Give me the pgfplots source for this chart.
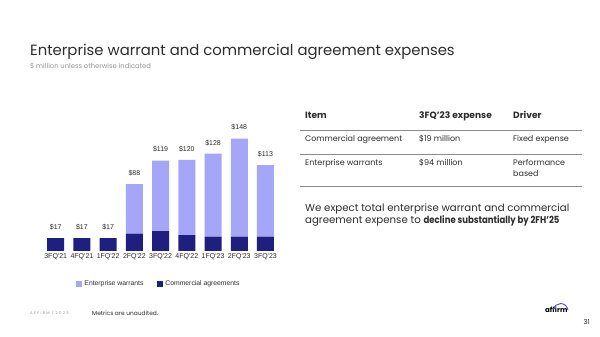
\documentclass[border=0pt]{standalone}
\usepackage{fontspec}
\setmainfont{Poppins}
\newfontfamily\arialf{Liberation Sans}
\usepackage{pgfplots}
\pgfplotsset{compat=1.18}
\definecolor{lightbar}{RGB}{166,166,248}
\definecolor{darkbar}{RGB}{31,31,128}
\definecolor{titlegray}{RGB}{45,45,45}
\definecolor{subgray}{RGB}{150,150,150}
\definecolor{linegray}{RGB}{140,140,140}
\definecolor{logoblue}{RGB}{74,74,244}
\pgfplotsset{chartgeom/.style={
  at={(42.6pt,86pt)}, anchor=south west,
  scale only axis, width=236pt, height=121.6pt,
  xmin=-0.5, xmax=8.5, ymin=0, ymax=160, clip=false}}
\begin{document}
\begin{tikzpicture}
\begin{scope}[x=1pt,y=-1pt,yshift=337pt]
\path[fill=white,use as bounding box] (0,0) rectangle (600,337);
% title
\node[anchor=base west,inner sep=0,text=titlegray,font=\fontsize{14.85}{18}\selectfont] at (30,56) {Enterprise warrant and commercial agreement expenses};
\node[anchor=base west,inner sep=0,text=subgray,font=\fontsize{6.8}{8}\selectfont] at (30,68.5) {\$ million unless otherwise indicated};
% table
\begin{scope}[every node/.style={anchor=base west,inner sep=0,text=titlegray,font=\fontsize{8}{10}\selectfont}]
\node[font=\fontsize{9.1}{10}\selectfont\bfseries] at (305,119) {Item};
\node[font=\fontsize{9.1}{10}\selectfont\bfseries] at (419,119) {3FQ'23 expense};
\node[font=\fontsize{9.1}{10}\selectfont\bfseries] at (513,119) {Driver};
\draw[linegray,line width=0.6pt] (300,130.7) -- (582,130.7);
\node at (305,142) {Commercial agreement};
\node at (419,142) {\$19 million};
\node at (513,142) {Fixed expense};
\draw[linegray,line width=0.6pt] (300,154.3) -- (582,154.3);
\node at (305,166) {Enterprise warrants};
\node at (419,166) {\$94 million};
\node at (513,166) {Performance};
\node at (513,176.5) {based};
\draw[linegray,line width=0.6pt] (300,186.5) -- (582,186.5);
\node[font=\fontsize{10.2}{12}\selectfont] at (305,212) {We expect total enterprise warrant and commercial};
\node[font=\fontsize{10.2}{12}\selectfont] at (305,223.5) {agreement expense to \scalebox{0.87}[1]{\fontsize{9.8}{12}\selectfont\bfseries decline substantially by 2FH'25}};
% footer
\node[text=subgray,font=\fontsize{3.8}{5}\selectfont\addfontfeature{LetterSpace=35}] at (30,315) {AFFIRM | 2023};
\node[font=\fontsize{5.9}{7}\selectfont] at (92,315.5) {Metrics are unaudited.};
\node[font=\fontsize{7}{9}\selectfont\bfseries,text=black] at (545,313) {affirm};
\draw[logoblue,line width=0.9pt] (553.5,309.5) .. controls (555,302) and (566,301) .. (568,310);
\node[font=\fontsize{6.8}{8}\selectfont] at (583.5,325) {31};
\end{scope}
\end{scope}
\begin{axis}[
  chartgeom,
  ybar stacked, bar width=17pt,
  axis line style={draw=none},
  major tick length=0pt,
  ytick=\empty,
  xtick={0,...,8},
  xticklabels={3FQ'21,4FQ'21,1FQ'22,2FQ'22,3FQ'22,4FQ'22,1FQ'23,2FQ'23,3FQ'23},
  xticklabel style={font=\arialf\fontsize{7}{8}\selectfont, text=titlegray, yshift=0.5pt},
  reverse legend,
  legend style={at={(rel axis cs:0.13,-0.271)}, anchor=west, draw=none, fill=none,
    legend columns=-1, font=\arialf\fontsize{6.8}{8}\selectfont, text=titlegray,
    /tikz/every even column/.append style={column sep=12pt}},
  legend image code/.code={\fill[#1,draw=none] (0pt,-3pt) rectangle (6pt,3pt);},
]
\addplot[fill=darkbar,draw=none] coordinates {(0,17) (1,17) (2,17) (3,23) (4,26) (5,21) (6,19) (7,19) (8,19)};
\addlegendentry{Commercial agreements}
\addplot[fill=lightbar,draw=none] coordinates {(0,0) (1,0) (2,0) (3,65) (4,93) (5,99) (6,109) (7,129) (8,94)};
\addlegendentry{Enterprise warrants}
\end{axis}
\begin{axis}[chartgeom, hide axis]
\addplot[draw=none, mark=none,
  nodes near coords={\pgfplotspointmeta}, point meta=explicit symbolic,
  every node near coord/.append style={anchor=center,yshift=11pt,font=\arialf\fontsize{7}{8}\selectfont,text=titlegray}]
  coordinates {(0,17) [\$17] (1,17) [\$17] (2,17) [\$17] (3,88) [\$88] (4,119) [\$119] (5,120) [\$120] (6,128) [\$128] (7,148) [\$148] (8,113) [\$113]};
\end{axis}
\end{tikzpicture}
\end{document}
